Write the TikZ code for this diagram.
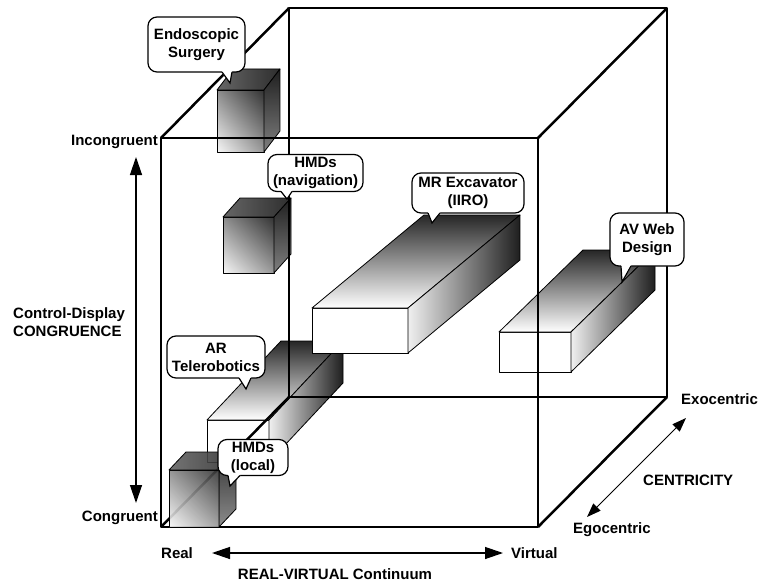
\documentclass[tikz,border=0pt]{standalone}
\usepackage{fontspec}
\setmainfont{Liberation Sans}
\usetikzlibrary{arrows.meta,calc,shadings}
\newcommand\mycube[6]{%
  \path[blk, shade, upper left=black!45, upper right=black!80, lower left=black!3, lower right=black!40] (#1,#2) rectangle ++(#3,#4);
  \path[blk, shade, left color=black!60, right color=black!82] (#1,#2) -- ++(#3,0) -- ++(#5,-#6) -- ++(-#3,0) -- cycle;
  \path[blk, shade, top color=black!88, bottom color=black!50] (#1+#3,#2) -- ++(#5,-#6) -- ++(0,#4) -- ++(-#5,#6) -- cycle;
}
\newcommand\mybar[6]{%
  \path[blk, fill=white] (#1,#2) rectangle ++(#3,#4);
  \path[blk, shade, top color=black!85, bottom color=white] (#1,#2) -- ++(#3,0) -- ++(#5,-#6) -- ++(-#3,0) -- cycle;
  \path[blk, shade, left color=black!6, right color=black!88] (#1+#3,#2) -- ++(#5,-#6) -- ++(0,#4) -- ++(-#5,#6) -- cycle;
}
\newcommand\calltail[5]{%
  \fill[white] (#1,#3-3) -- (#1,#3+0.8) -- (#4,#5) -- (#2,#3+0.8) -- (#2,#3-3) -- cycle;
  \draw[line width=1.2pt, line join=miter] (#1,#3) -- (#4,#5) -- (#2,#3);
}
\begin{document}
\begin{tikzpicture}[x=1pt,y=-1pt,
  lbl/.style={font=\fontsize{15}{18}\selectfont\bfseries, inner sep=0pt, align=left},
  bubble/.style={draw, fill=white, line width=1.2pt, rounded corners=9pt,
    font=\fontsize{15}{18}\selectfont\bfseries, align=center, inner sep=0pt},
  cubeedge/.style={line width=2.5pt, line join=round},
  blk/.style={draw=black, line width=0.8pt, line join=round},
  bigarrow/.style={line width=1.3pt, {Triangle[width=12pt,length=18pt]}-{Triangle[width=12pt,length=18pt]}},
  smallarrow/.style={line width=1pt, {Triangle[width=10pt,length=14pt]}-{Triangle[width=10pt,length=14pt]}}
]
\useasboundingbox[fill=white] (0,0) rectangle (763,583);

% blocks
\mybar{207}{420}{62}{42}{74}{79}
\mybar{312}{308}{96}{45}{112}{93}
\mybar{499}{332}{72}{40}{84}{82}
\mycube{217}{90}{47}{62}{16}{21}
\mycube{223}{217}{51}{56}{17}{19}

% cube frame
\coordinate (F1) at (161,138); \coordinate (F2) at (538,138);
\coordinate (F3) at (538,527); \coordinate (F4) at (161,527);
\coordinate (B1) at (289,8);   \coordinate (B2) at (667,8);
\coordinate (B3) at (667,397); \coordinate (B4) at (289,397);
\draw[cubeedge] (F1) -- (F2) -- (F3) -- (F4) -- cycle;
\draw[cubeedge] (B1) -- (B2) -- (B3) -- (B4) -- cycle;
\draw[cubeedge] (F1) -- (B1) (F2) -- (B2) (F3) -- (B3) (F4) -- (B4);

% local cube
\begin{scope}[fill opacity=0.9]
\mycube{169}{470}{50}{57}{17}{18}
\end{scope}

% callouts
\node[bubble, minimum width=97pt, minimum height=55pt] (es) at (196.5,44.5) {Endoscopic\\Surgery};
\calltail{222}{232}{72}{230}{83}
\node[bubble, minimum width=95pt, minimum height=37pt] (nav) at (315.5,173) {HMDs\\(navigation)};
\calltail{281}{292}{191.5}{287}{199}
\node[bubble, minimum width=112pt, minimum height=40pt] (mr) at (468,193) {MR Excavator\\(IIRO)};
\calltail{428}{440}{213}{432}{223}
\node[bubble, minimum width=74pt, minimum height=53pt] (av) at (647,239.5) {AV Web\\Design};
\calltail{621}{631}{266}{622}{282}
\node[bubble, minimum width=98pt, minimum height=42pt] (ar) at (216,357) {AR\\Telerobotics};
\calltail{239}{251}{378}{246}{389}
\node[bubble, minimum width=70pt, minimum height=36pt] (loc) at (253,457.5) {HMDs\\(local)};
\calltail{228}{240}{475.5}{230}{486}

% axis labels
\node[lbl, anchor=east] (inc) at (158,142) {Incongruent};
\node[lbl, anchor=east] (con) at (158,518) {Congruent};
\node[lbl, anchor=west] (cd) at (13,322) {Control-Display\\CONGRUENCE};
\node[lbl, anchor=west] (real) at (161,553) {Real};
\node[lbl, anchor=west] (virt) at (511,553) {Virtual};
\node[lbl] (rvc) at (335,574) {REAL-VIRTUAL Continuum};
\node[lbl, anchor=west] (exo) at (681,399) {Exocentric};
\node[lbl, anchor=west] (centr) at (643,480) {CENTRICITY};
\node[lbl, anchor=west] (ego) at (573,530) {Egocentric};

% arrows
\coordinate (v1) at (136,157); \coordinate (v2) at (136,503);
\draw[bigarrow] (v1) -- (v2);
\coordinate (h1) at (212,553); \coordinate (h2) at (503,553);
\draw[bigarrow] (h1) -- (h2);
\coordinate (c1) at (587,517); \coordinate (c2) at (686,418);
\draw[smallarrow] (c1) -- (c2);
\end{tikzpicture}
\end{document}
